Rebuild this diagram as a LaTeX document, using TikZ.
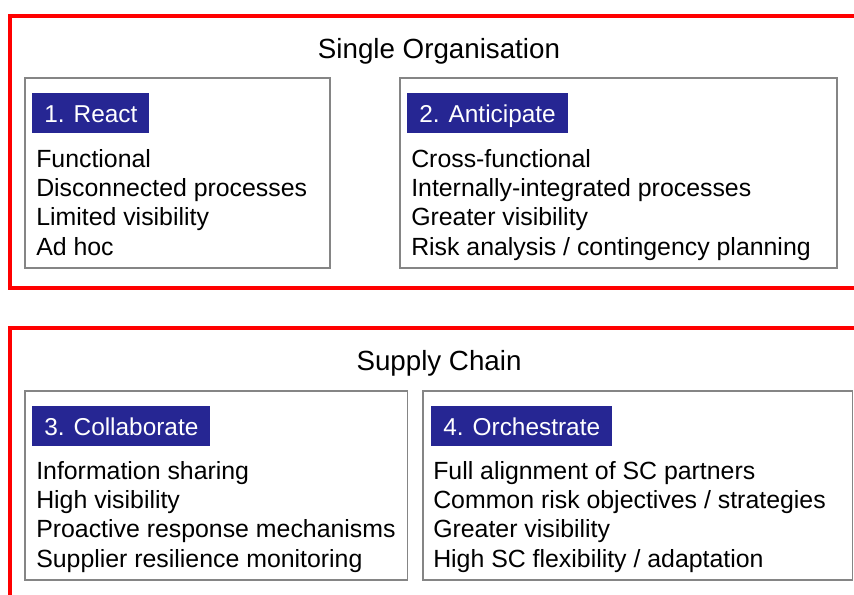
\documentclass[tikz,border=0pt]{standalone}
\usepackage{fontspec}
\setmainfont{Liberation Sans}
\definecolor{hdrblue}{HTML}{262693}
\definecolor{framered}{HTML}{FF0000}
\definecolor{boxgray}{HTML}{858585}
\tikzset{
  frame/.style={draw=framered, line width=3pt, line join=miter},
  panel/.style={draw=boxgray, line width=0.8pt},
  title/.style={font=\fontsize{20.8}{25}\selectfont, anchor=base, inner sep=0pt},
  header/.style={fill=hdrblue, text=white, font=\fontsize{18.3}{22}\selectfont,
    anchor=north west, inner xsep=9pt, inner ysep=0pt, minimum height=30pt,
    text height=13.1pt, text depth=0pt},
  body/.style={font=\fontsize{18.65}{22.1}\selectfont, anchor=base west, inner sep=0pt}
}
\begin{document}
\begin{tikzpicture}[x=0.75pt, y=-0.75pt]
  \useasboundingbox (0,0) rectangle (854,594);
  \fill[white] (0,0) rectangle (854,594);
  \begin{scope}
    \clip (0,0) rectangle (854,594);
    \draw[frame] (900,16) -- (10,16) -- (10,288) -- (900,288);
    \draw[frame] (900,328) -- (10,328) -- (10,700);
    \draw[panel] (25,78) rectangle (330,268);
    \draw[panel] (400,78) rectangle (837,268);
    \draw[panel] (25,391) rectangle (407.5,580);
    \draw[panel] (423,391) rectangle (852.5,580);
  \end{scope}

  \node[title] (t1) at (439,58) {Single Organisation};
  \node[title] (t2) at (439,370) {Supply Chain};

  \node[header] (h1) at (32,93) {1. React};
  \node[header] (h2) at (407,93) {2. Anticipate};
  \node[header] (h3) at (32,406) {3. Collaborate};
  \node[header] (h4) at (431,406) {4. Orchestrate};

  \node[body] (b1) at (36,167) {\begin{tabular}[t]{@{}l@{}}Functional\\ Disconnected processes\\ Limited visibility\\ Ad hoc\end{tabular}};
  \node[body] (b2) at (411,167) {\begin{tabular}[t]{@{}l@{}}Cross-functional\\ Internally-integrated processes\\ Greater visibility\\ Risk analysis / contingency planning\end{tabular}};
  \node[body] (b3) at (36,479) {\begin{tabular}[t]{@{}l@{}}Information sharing\\ High visibility\\ Proactive response mechanisms\\ Supplier resilience monitoring\end{tabular}};
  \node[body] (b4) at (433,479) {\begin{tabular}[t]{@{}l@{}}Full alignment of SC partners\\ Common risk objectives / strategies\\ Greater visibility\\ High SC flexibility / adaptation\end{tabular}};
\end{tikzpicture}
\end{document}
